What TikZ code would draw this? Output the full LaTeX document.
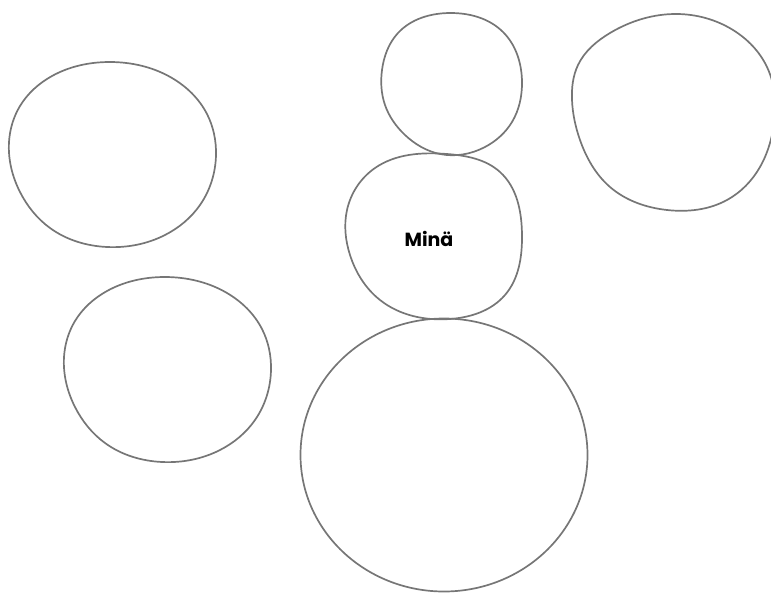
\documentclass[tikz,border=0pt]{standalone}
\usepackage{fontspec}
\usetikzlibrary{hobby}
\setmainfont{Poppins}
\definecolor{blobgray}{RGB}{118,118,118}
\tikzset{blob/.style={draw=blobgray, line width=1.7pt, line join=round}}
\begin{document}
\begin{tikzpicture}[x=1pt,y=-1pt]
\useasboundingbox (0,0) rectangle (771,592);
\draw[blob] plot[closed hobby] coordinates {(110,62) (172,78) (207,114) (216,155) (200,205) (165,235) (107,247) (50,228) (20,192) (9,142) (20,106) (52,76)};
\draw[blob, shift={(55,215)}] plot[closed hobby] coordinates {(110,62) (172,78) (207,114) (216,155) (200,205) (165,235) (107,247) (50,228) (20,192) (9,142) (20,106) (52,76)};
\draw[blob] plot[closed hobby] coordinates {(450,13) (503,32) (522,82) (512,122) (485,147) (440,154) (405,135) (385,105) (382,70) (398,33)};
\draw[blob] plot[closed hobby] coordinates {(447,154) (500,172) (522,235) (505,295) (450,319) (380,300) (350,255) (347,210) (375,168)};
\draw[blob] plot[closed hobby] coordinates {(677,14) (733,30) (767,67) (773,130) (760,167) (727,200) (667,210) (610,187) (580,140) (572,100) (578,65) (610,33)};
\draw[blob] (444,455) ellipse [x radius=143.5, y radius=136.5];
\node[font=\bfseries\fontsize{19}{22}\selectfont] (mina) at (429,239) {Minä};
\end{tikzpicture}
\end{document}
